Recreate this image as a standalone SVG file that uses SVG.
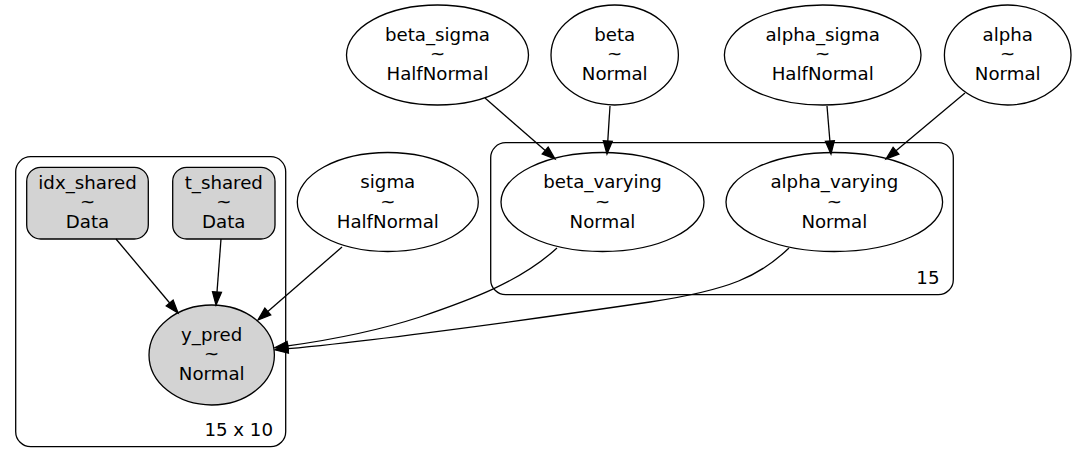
<svg xmlns="http://www.w3.org/2000/svg" width="1077" height="462" viewBox="0 0 1077 462">
<style>
text{font-family:"DejaVu Sans","Liberation Sans",sans-serif;font-size:18.2px;fill:#000;text-anchor:middle}
.lbl{text-anchor:end}
.n{fill:#fff;stroke:#000;stroke-width:1.3}
.obs{fill:#d3d3d3;stroke:#000;stroke-width:1.3}
.plate{fill:none;stroke:#000;stroke-width:1.3}
.e{fill:none;stroke:#000;stroke-width:1.3;marker-end:url(#ah)}
</style>
<defs>
<marker id="ah" markerUnits="userSpaceOnUse" markerWidth="15" markerHeight="11" refX="0" refY="4.5" orient="auto" overflow="visible">
<path d="M0,0 L13,4.5 L0,9 Z" fill="#000" stroke="#000" stroke-width="1.3"/>
</marker>
</defs>
<rect fill="#fff" x="0" y="0" width="1077" height="462"/>
<g id="plate_15x10">
<rect class="plate" x="15.7" y="156.7" width="270" height="290" rx="15" ry="15"/>
<text class="lbl" x="273" y="435.5">15 x 10</text>
</g>
<g id="plate_15">
<rect class="plate" x="490.7" y="142.7" width="462.6" height="152" rx="15" ry="15"/>
<text class="lbl" x="939.5" y="283.5">15</text>
</g>
<g id="beta_sigma">
<ellipse class="n" cx="437.5" cy="55" rx="91" ry="50"/>
<text x="437.5" y="40.5">beta_sigma</text><text x="437.5" y="60">~</text><text x="437.5" y="80">HalfNormal</text>
</g>
<g id="beta">
<ellipse class="n" cx="614.7" cy="55" rx="63.7" ry="50"/>
<text x="614.7" y="40.5">beta</text><text x="614.7" y="60">~</text><text x="614.7" y="80">Normal</text>
</g>
<g id="alpha_sigma">
<ellipse class="n" cx="822.7" cy="55" rx="98.3" ry="50"/>
<text x="822.7" y="40.5">alpha_sigma</text><text x="822.7" y="60">~</text><text x="822.7" y="80">HalfNormal</text>
</g>
<g id="alpha">
<ellipse class="n" cx="1007.7" cy="55" rx="63.3" ry="50"/>
<text x="1007.7" y="40.5">alpha</text><text x="1007.7" y="60">~</text><text x="1007.7" y="80">Normal</text>
</g>
<g id="sigma">
<ellipse class="n" cx="387.8" cy="202" rx="90.5" ry="49.5"/>
<text x="387.8" y="188">sigma</text><text x="387.8" y="207.5">~</text><text x="387.8" y="227.5">HalfNormal</text>
</g>
<g id="beta_varying">
<ellipse class="n" cx="602.5" cy="202" rx="101.5" ry="49.5"/>
<text x="602.5" y="188">beta_varying</text><text x="602.5" y="207.5">~</text><text x="602.5" y="227.5">Normal</text>
</g>
<g id="alpha_varying">
<ellipse class="n" cx="834.3" cy="202" rx="108.3" ry="49.5"/>
<text x="834.3" y="188">alpha_varying</text><text x="834.3" y="207.5">~</text><text x="834.3" y="227.5">Normal</text>
</g>
<g id="idx_shared">
<rect class="obs" x="26.7" y="167.3" width="121.6" height="71.7" rx="14" ry="14"/>
<text x="87.5" y="188.5">idx_shared</text><text x="87.5" y="208">~</text><text x="87.5" y="228">Data</text>
</g>
<g id="t_shared">
<rect class="obs" x="172.7" y="167.3" width="102.3" height="71.7" rx="14" ry="14"/>
<text x="223.8" y="188.5">t_shared</text><text x="223.8" y="208">~</text><text x="223.8" y="228">Data</text>
</g>
<g id="y_pred">
<ellipse class="obs" cx="211.7" cy="355" rx="62.7" ry="50"/>
<text x="211.7" y="340.5">y_pred</text><text x="211.7" y="360">~</text><text x="211.7" y="380">Normal</text>
</g>
<g id="connectors">
<path class="e" d="M485,98 L545.2,150.5"/>
<path class="e" d="M610,106 L607.8,141"/>
<path class="e" d="M827,106 L829.9,141"/>
<path class="e" d="M965,93 L896,150.7"/>
<path class="e" d="M116,239 L169.7,303"/>
<path class="e" d="M221,239 L217,292"/>
<path class="e" d="M342,247 L267.8,311.5"/>
<path class="e" d="M557,248 C520,282 470,300 420,317 C380,330 330,340 287.7,345.9"/>
<path class="e" d="M789,248 C760,276 730,290 650,302 C540,318 380,340 288,348.7"/>
</g>
</svg>
